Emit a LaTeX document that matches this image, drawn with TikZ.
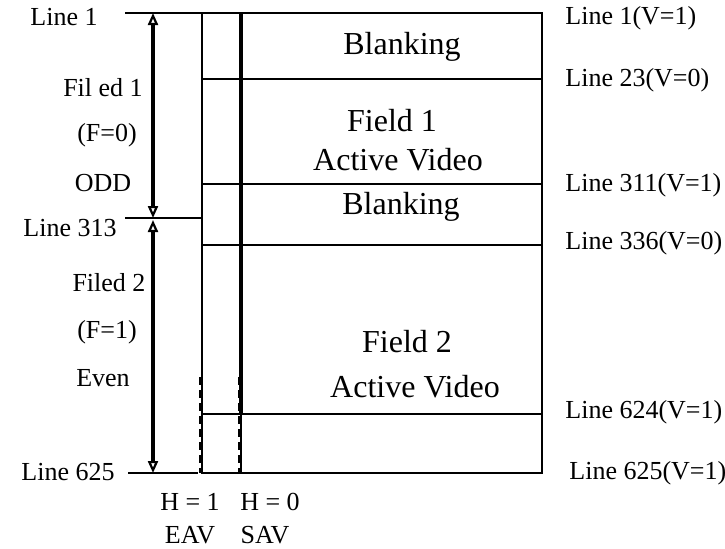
\documentclass[tikz,border=0pt]{standalone}
\usepackage{fontspec}
\setmainfont{Liberation Serif}
\usetikzlibrary{arrows.meta}
\tikzset{
  frame/.style={line width=1pt},
  savline/.style={line width=1.8pt},
  tickline/.style={line width=1pt},
  dimarr/.style={{Triangle[open,length=6pt,width=5pt,line width=1.1pt]}-{Triangle[open,length=6pt,width=5pt,line width=1.1pt]}, line width=1.7pt},
  dsh/.style={line width=1.7pt, dash pattern=on 4pt off 2.5pt},
  lbl/.style={font=\fontsize{13}{15}\selectfont, inner sep=0pt},
  zone/.style={font=\fontsize{16}{18}\selectfont, inner sep=0pt},
}

\begin{document}
\begin{tikzpicture}[x=0.5pt, y=-0.5pt]
\useasboundingbox (0,0) rectangle (725,548);

% line positions on the dimension arrows
\coordinate (a1) at (153,13);
\coordinate (a313) at (153,218);
\coordinate (a313b) at (153,220);
\coordinate (a625) at (153,473);

% frame and rows
\draw[frame] (202,13) rectangle (542,473);
\foreach \y in {79,184,245,414}
  \draw[frame] (202,\y) -- (542,\y);
\draw[savline] (241,13) -- (241,414);
\draw[frame] (241,414) -- (241,473);
\draw[dsh] (201,377) -- (201,473);
\draw[dsh] (240,377) -- (240,473);

% ticks and field arrows
\draw[tickline] (125,13) -- (202,13);
\draw[tickline] (125,218) -- (202,218);
\draw[tickline] (128,473) -- (198,473);
\draw[dimarr] (a1) -- (a313);
\draw[dimarr] (a313b) -- (a625);

% left labels
\node[lbl, anchor=west] (l1) at (30,17) {Line 1};
\node[lbl] (f1) at (103,88) {Fil ed 1};
\node[lbl] (f1v) at (107,135) {(F=0)};
\node[lbl] (odd) at (103,183) {ODD};
\node[lbl, anchor=west] (l313) at (23,228) {Line 313};
\node[lbl] (f2) at (109,283) {Filed 2};
\node[lbl] (f2v) at (107,332) {(F=1)};
\node[lbl] (even) at (103,378) {Even};
\node[lbl, anchor=west] (l625) at (21,472) {Line 625};

% zones
\node[zone] (bl1) at (402,47) {Blanking};
\node[zone] (fd1) at (392,121) {Field 1};
\node[zone] (av1) at (398,160) {Active Video};
\node[zone] (bl2) at (401,207) {Blanking};
\node[zone] (fd2) at (407,342) {Field 2};
\node[zone] (av2) at (415,387) {Active Video};

% right labels
\node[lbl, anchor=west] (r1) at (565,18) {Line 1(V=1)};
\node[lbl, anchor=west] (r23) at (565,80) {Line 23(V=0)};
\node[lbl, anchor=west] (r311) at (565,185) {Line 311(V=1)};
\node[lbl, anchor=west] (r336) at (565,243) {Line 336(V=0)};
\node[lbl, anchor=west] (r624) at (565,412) {Line 624(V=1)};
\node[lbl, anchor=west] (r625) at (569,473) {Line 625(V=1)};

% bottom labels
\node[lbl] (h1) at (190,502) {H = 1};
\node[lbl] (h0) at (270,502) {H = 0};
\node[lbl] (eav) at (190,535) {EAV};
\node[lbl] (sav) at (265,535) {SAV};
\end{tikzpicture}
\end{document}
